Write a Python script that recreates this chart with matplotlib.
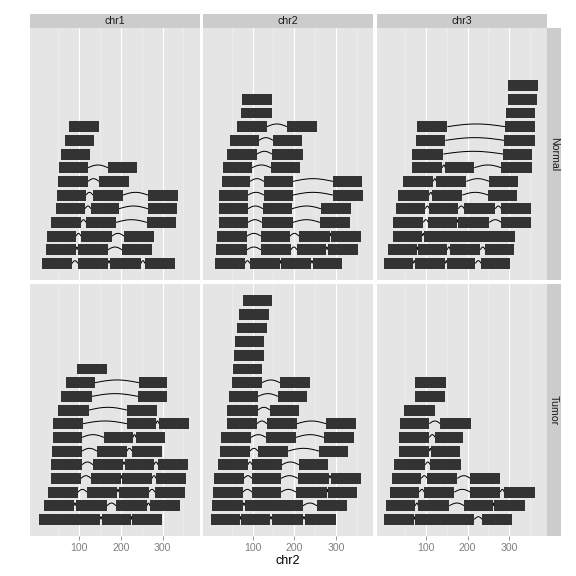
import matplotlib
matplotlib.use('Agg')
import matplotlib.pyplot as plt
from matplotlib.patches import Rectangle
import numpy as np

plt.rcParams['font.family'] = ['Liberation Sans', 'DejaVu Sans']

conditions = ['Normal', 'Tumor']
chromosomes = ['chr1', 'chr2', 'chr3']
x_major = [100, 200, 300]
x_major_labels = ['100', '200', '300']
x_minor = [50, 150, 250, 350]
x_label = 'chr2'

# Each panel: rows stacked from bottom (level 1) upward; each row = list of (start, end)
normal_chr1 = [
    [(10.4, 82.4), (96.8, 168.8), (173.6, 248), (257.6, 329.6)],
    [(20, 92), (96.8, 168.8), (202.4, 274.4)],
    [(22.4, 92), (104, 178.4), (207.2, 279.2)],
    [(32, 104), (116, 188), (262.4, 332)],
    [(44, 113.6), (128, 195.2), (264.8, 334.4)],
    [(46.4, 116), (132.8, 204.8), (264.8, 336.8)],
    [(48.8, 120.8), (147.2, 219.2)],
    [(51.2, 120.8), (168.8, 238.4)],
    [(56, 125.6)],
    [(65.6, 135.2)],
    [(75.2, 147.2)],
]
normal_chr2 = [
    [(9.6, 81.6), (93.6, 165.6), (168, 240), (244.8, 314.4)],
    [(12, 86.4), (120, 192), (206.4, 276), (280.8, 352.8)],
    [(14.4, 86.4), (120, 189.6), (211.2, 285.6), (288, 360)],
    [(19.2, 88.8), (122.4, 196.8), (261.6, 333.6)],
    [(19.2, 88.8), (124.8, 194.4), (264, 336)],
    [(19.2, 88.8), (127.2, 196.8), (292.8, 364.8)],
    [(26.4, 93.6), (127.2, 196.8), (292.8, 362.4)],
    [(28.8, 98.4), (144, 213.6)],
    [(38.4, 110.4), (146.4, 220.8)],
    [(45.6, 115.2), (148.8, 218.4)],
    [(62.4, 134.4), (182.4, 254.4)],
    [(72, 146.4)],
    [(74.4, 146.4)],
]
normal_chr3 = [
    [(0, 69.6), (74.4, 146.4), (151.2, 218.4), (232.8, 302.4)],
    [(9.6, 79.2), (81.6, 151.2), (158.4, 230.4), (242.4, 312)],
    [(21.6, 91.2), (96, 314.4)],
    [(21.6, 93.6), (105.6, 175.2), (177.6, 252), (280.8, 352.8)],
    [(28.8, 98.4), (108, 177.6), (192, 266.4), (280.8, 352.8)],
    [(33.6, 108), (115.2, 187.2), (249.6, 319.2)],
    [(45.6, 117.6), (124.8, 196.8), (252, 321.6)],
    [(67.2, 139.2), (146.4, 216), (280.8, 355.2)],
    [(67.2, 141.6), (285.6, 355.2)],
    [(76.8, 146.4), (288, 362.4)],
    [(79.2, 151.2), (290.4, 362.4)],
    [(292.8, 362.4)],
    [(297.6, 367.2)],
    [(297.6, 369.6)],
]
tumor_chr1 = [
    [(3.2, 149.6), (154.4, 224), (226.4, 298.4)],
    [(15.2, 87.2), (92, 166.4), (188, 262.4), (269.6, 341.6)],
    [(24.8, 96.8), (118.4, 190.4), (195.2, 267.2), (281.6, 353.6)],
    [(32, 104), (128, 200), (202.4, 274.4), (284, 356)],
    [(32, 106.4), (132.8, 204.8), (209.6, 279.2), (288.8, 360.8)],
    [(34.4, 106.4), (142.4, 214.4), (226.4, 298.4)],
    [(36.8, 106.4), (159.2, 228.8), (236, 305.6)],
    [(36.8, 108.8), (214.4, 284), (291.2, 363.2)],
    [(48.8, 123.2), (214.4, 286.4)],
    [(56, 130.4), (240.8, 310.4)],
    [(68, 137.6), (243.2, 310.4)],
    [(94.4, 166.4)],
]
tumor_chr2 = [
    [(0, 69.6), (72, 141.6), (146.4, 220.8), (225.6, 300)],
    [(2.4, 76.8), (81.6, 220.8), (254.4, 326.4)],
    [(4.8, 76.8), (98.4, 168), (204, 278.4), (280.8, 350.4)],
    [(7.2, 79.2), (98.4, 168), (208.8, 283.2), (288, 360)],
    [(16.8, 88.8), (98.4, 170.4), (211.2, 280.8)],
    [(21.6, 93.6), (112.8, 184.8), (259.2, 328.8)],
    [(24, 96), (132, 204), (271.2, 343.2)],
    [(38.4, 110.4), (134.4, 206.4), (276, 348)],
    [(38.4, 112.8), (141.6, 211.2)],
    [(43.2, 112.8), (160.8, 230.4)],
    [(50.4, 122.4), (165.6, 237.6)],
    [(52.8, 122.4)],
    [(55.2, 127.2)],
    [(57.6, 127.2)],
    [(62.4, 134.4)],
    [(67.2, 139.2)],
    [(76.8, 146.4)],
]
tumor_chr3 = [
    [(0, 72), (74.4, 216), (235.2, 307.2)],
    [(4.8, 74.4), (81.6, 156), (192, 261.6), (264, 338.4)],
    [(14.4, 84), (96, 168), (206.4, 278.4), (288, 362.4)],
    [(19.2, 88.8), (103.2, 175.2), (206.4, 278.4)],
    [(24, 98.4), (110.4, 184.8)],
    [(36, 108), (112.8, 182.4)],
    [(36, 108), (122.4, 189.6)],
    [(38.4, 108), (134.4, 208.8)],
    [(48, 122.4)],
    [(74.4, 146.4)],
    [(74.4, 148.8)],
]

panels = {
    ('Normal', 'chr1'): normal_chr1, ('Normal', 'chr2'): normal_chr2, ('Normal', 'chr3'): normal_chr3,
    ('Tumor', 'chr1'): tumor_chr1, ('Tumor', 'chr2'): tumor_chr2, ('Tumor', 'chr3'): tumor_chr3,
}

W = H = 576
fig = plt.figure(figsize=(8, 8), dpi=72)
fig.patch.set_facecolor('white')

def frac(left, top, w, h):
    return [left / W, 1 - (top + h) / H, w / W, h / H]

col_left = [30, 203.3, 376.7]
col_w = 170
row_top = [27.7, 283.7]
row_h = 252.7

bar_h = 0.8
arc_h = 0.2

for r, cond in enumerate(conditions):
    for c, chrom in enumerate(chromosomes):
        ax = fig.add_axes(frac(col_left[c], row_top[r], col_w, row_h))
        ax.set_facecolor('#E5E5E5')
        for s in ax.spines.values():
            s.set_visible(False)
        ax.set_xlim(-18.3, 389.7)
        ax.set_ylim(-0.24, 18.24)
        ax.set_xticks(x_major)
        ax.set_xticks(x_minor, minor=True)
        ax.set_yticks([])
        ax.grid(which='major', axis='x', color='white', lw=1.1, zorder=0)
        ax.grid(which='minor', axis='x', color='#F2F2F2', lw=0.6, zorder=0)
        ax.set_axisbelow(True)
        ax.tick_params(which='minor', length=0)
        if r == 1:
            ax.set_xticklabels(x_major_labels)
            ax.tick_params(which='major', axis='x', length=4, width=0.8, color='#7F7F7F',
                           labelcolor='#7F7F7F', labelsize=10.5, pad=3)
        else:
            ax.tick_params(which='major', axis='x', length=0, labelbottom=False)
        rows = panels[(cond, chrom)]
        for li, row in enumerate(rows):
            level = li + 1
            for (s0, e0) in row:
                ax.add_patch(Rectangle((s0, level - bar_h / 2), e0 - s0, bar_h,
                                       facecolor='#333333', edgecolor='none', zorder=3))
            for (a, b) in zip(row[:-1], row[1:]):
                x0, x1 = a[1], b[0]
                t = np.linspace(0, 1, 40)
                xs = x0 + (x1 - x0) * t
                ys = level + arc_h * np.sin(np.pi * t)
                ax.plot(xs, ys, color='black', lw=1.0, zorder=2, solid_capstyle='butt')

        if r == 0:
            sax = fig.add_axes(frac(col_left[c], 14, col_w, 13.7))
            sax.set_facecolor('#CCCCCC')
            sax.set_xticks([]); sax.set_yticks([])
            for s in sax.spines.values():
                s.set_visible(False)
            sax.text(0.5, 0.5, chrom, ha='center', va='center', fontsize=10.5, color='#1A1A1A',
                     transform=sax.transAxes)
        if c == 2:
            sax = fig.add_axes(frac(546.7, row_top[r], 14, row_h))
            sax.set_facecolor('#CCCCCC')
            sax.set_xticks([]); sax.set_yticks([])
            for s in sax.spines.values():
                s.set_visible(False)
            sax.text(0.5, 0.5, cond, ha='center', va='center', fontsize=10.5, color='#1A1A1A',
                     rotation=-90, transform=sax.transAxes)

fig.text(288 / W, 1 - 560.5 / H, x_label, ha='center', va='center', fontsize=12.5, color='black')

fig.savefig('out.png', dpi=72)
